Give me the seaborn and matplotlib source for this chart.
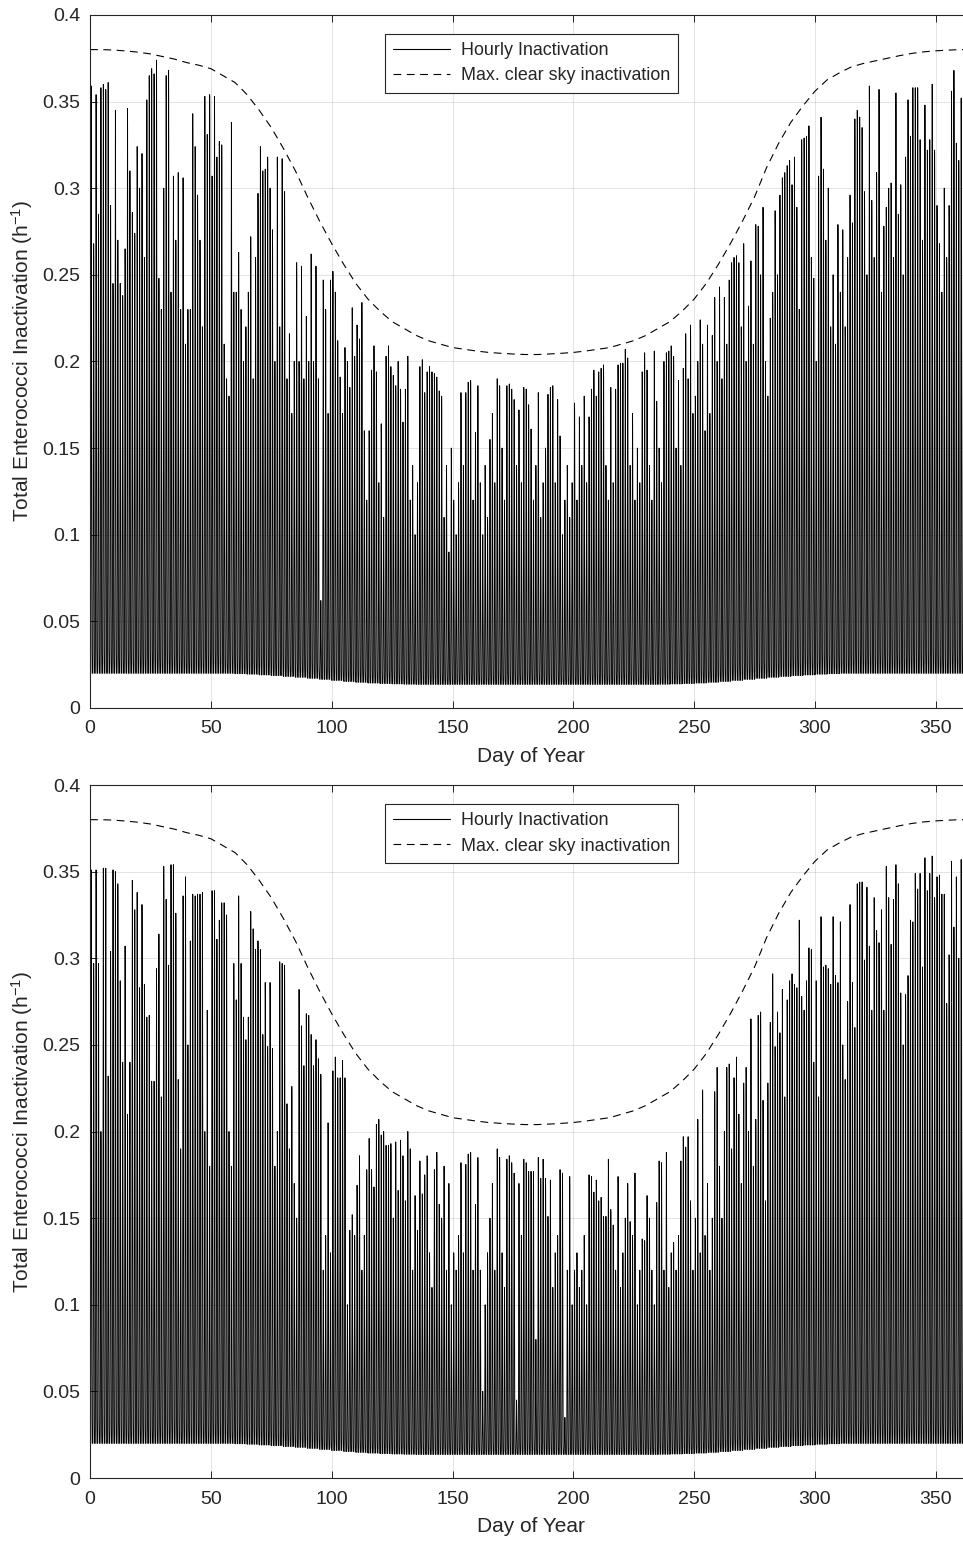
import numpy as np
import pandas as pd
import matplotlib
matplotlib.use("Agg")
import matplotlib.pyplot as plt
import seaborn as sns
from matplotlib.ticker import FuncFormatter

# Daily midday peak of hourly inactivation (h^-1), days 0..364 -- first site
TOP_PEAK = [
    0.359, 0.268, 0.354, 0.285, 0.358, 0.360, 0.357, 0.361, 0.290, 0.245,
    0.345, 0.270, 0.245, 0.238, 0.265, 0.346, 0.310, 0.286, 0.274, 0.324,
    0.300, 0.320, 0.260, 0.351, 0.365, 0.369, 0.366, 0.374, 0.248, 0.230,
    0.300, 0.365, 0.368, 0.240, 0.307, 0.270, 0.309, 0.230, 0.306, 0.210,
    0.230, 0.230, 0.343, 0.324, 0.296, 0.270, 0.220, 0.353, 0.331, 0.354,
    0.307, 0.353, 0.318, 0.327, 0.325, 0.210, 0.190, 0.180, 0.338, 0.240,
    0.240, 0.263, 0.230, 0.200, 0.220, 0.240, 0.272, 0.190, 0.260, 0.297,
    0.324, 0.310, 0.311, 0.318, 0.300, 0.276, 0.200, 0.318, 0.220, 0.317,
    0.298, 0.190, 0.216, 0.170, 0.200, 0.257, 0.200, 0.255, 0.190, 0.226,
    0.200, 0.262, 0.200, 0.255, 0.190, 0.062, 0.247, 0.230, 0.170, 0.247,
    0.252, 0.240, 0.212, 0.191, 0.170, 0.208, 0.200, 0.185, 0.231, 0.203,
    0.221, 0.213, 0.234, 0.160, 0.120, 0.160, 0.195, 0.209, 0.194, 0.130,
    0.164, 0.110, 0.203, 0.209, 0.197, 0.192, 0.186, 0.200, 0.184, 0.165,
    0.184, 0.203, 0.120, 0.140, 0.100, 0.130, 0.197, 0.201, 0.182, 0.194,
    0.197, 0.194, 0.193, 0.191, 0.183, 0.180, 0.110, 0.140, 0.090, 0.150,
    0.120, 0.100, 0.130, 0.182, 0.140, 0.182, 0.188, 0.189, 0.120, 0.159,
    0.186, 0.130, 0.100, 0.140, 0.110, 0.155, 0.170, 0.130, 0.190, 0.186,
    0.150, 0.120, 0.186, 0.187, 0.184, 0.178, 0.140, 0.172, 0.130, 0.185,
    0.184, 0.175, 0.161, 0.120, 0.140, 0.182, 0.110, 0.130, 0.150, 0.181,
    0.185, 0.186, 0.130, 0.178, 0.157, 0.100, 0.120, 0.140, 0.110, 0.130,
    0.176, 0.120, 0.168, 0.140, 0.180, 0.130, 0.168, 0.184, 0.195, 0.180,
    0.194, 0.196, 0.198, 0.140, 0.120, 0.185, 0.130, 0.184, 0.198, 0.199,
    0.199, 0.207, 0.202, 0.140, 0.170, 0.120, 0.150, 0.130, 0.194, 0.205,
    0.195, 0.140, 0.120, 0.206, 0.177, 0.150, 0.130, 0.200, 0.205, 0.206,
    0.209, 0.203, 0.150, 0.189, 0.140, 0.196, 0.216, 0.190, 0.221, 0.170,
    0.180, 0.200, 0.224, 0.210, 0.160, 0.221, 0.170, 0.215, 0.237, 0.200,
    0.243, 0.190, 0.237, 0.210, 0.247, 0.257, 0.260, 0.261, 0.257, 0.220,
    0.268, 0.200, 0.232, 0.258, 0.210, 0.279, 0.278, 0.250, 0.289, 0.200,
    0.180, 0.225, 0.240, 0.287, 0.250, 0.296, 0.306, 0.309, 0.313, 0.316,
    0.302, 0.318, 0.289, 0.230, 0.328, 0.329, 0.330, 0.336, 0.260, 0.248,
    0.200, 0.307, 0.341, 0.311, 0.270, 0.300, 0.220, 0.250, 0.210, 0.279,
    0.240, 0.276, 0.220, 0.260, 0.296, 0.280, 0.340, 0.345, 0.341, 0.335,
    0.298, 0.250, 0.359, 0.293, 0.260, 0.309, 0.357, 0.240, 0.278, 0.289,
    0.300, 0.303, 0.260, 0.355, 0.285, 0.302, 0.250, 0.318, 0.351, 0.330,
    0.358, 0.358, 0.358, 0.328, 0.270, 0.348, 0.322, 0.328, 0.360, 0.322,
    0.290, 0.268, 0.240, 0.300, 0.260, 0.290, 0.356, 0.368, 0.326, 0.316,
    0.352, 0.360, 0.228, 0.300, 0.330,
]

# Daily midday peak of hourly inactivation (h^-1), days 0..364 -- second site
BOTTOM_PEAK = [
    0.351, 0.297, 0.351, 0.297, 0.200, 0.352, 0.352, 0.232, 0.304, 0.351,
    0.350, 0.343, 0.287, 0.240, 0.307, 0.210, 0.240, 0.345, 0.328, 0.338,
    0.283, 0.331, 0.285, 0.266, 0.267, 0.229, 0.229, 0.294, 0.314, 0.220,
    0.353, 0.334, 0.296, 0.354, 0.354, 0.326, 0.230, 0.190, 0.336, 0.347,
    0.250, 0.310, 0.337, 0.336, 0.337, 0.337, 0.338, 0.200, 0.270, 0.180,
    0.339, 0.339, 0.311, 0.322, 0.332, 0.332, 0.325, 0.200, 0.180, 0.297,
    0.276, 0.336, 0.297, 0.266, 0.253, 0.266, 0.327, 0.317, 0.305, 0.310,
    0.305, 0.256, 0.286, 0.249, 0.286, 0.248, 0.180, 0.200, 0.298, 0.297,
    0.296, 0.216, 0.190, 0.226, 0.170, 0.150, 0.282, 0.261, 0.238, 0.268,
    0.267, 0.256, 0.238, 0.253, 0.242, 0.233, 0.120, 0.140, 0.205, 0.130,
    0.235, 0.243, 0.231, 0.231, 0.241, 0.231, 0.100, 0.143, 0.152, 0.140,
    0.169, 0.186, 0.120, 0.140, 0.178, 0.196, 0.178, 0.168, 0.204, 0.207,
    0.198, 0.200, 0.192, 0.192, 0.193, 0.150, 0.194, 0.166, 0.195, 0.186,
    0.160, 0.200, 0.190, 0.120, 0.163, 0.143, 0.183, 0.164, 0.175, 0.186,
    0.130, 0.110, 0.178, 0.188, 0.158, 0.150, 0.180, 0.120, 0.170, 0.100,
    0.130, 0.120, 0.140, 0.182, 0.130, 0.181, 0.187, 0.188, 0.120, 0.158,
    0.185, 0.120, 0.050, 0.100, 0.130, 0.150, 0.170, 0.120, 0.190, 0.185,
    0.130, 0.110, 0.184, 0.186, 0.182, 0.176, 0.045, 0.170, 0.140, 0.184,
    0.182, 0.177, 0.177, 0.177, 0.080, 0.185, 0.173, 0.184, 0.173, 0.151,
    0.172, 0.110, 0.130, 0.140, 0.178, 0.176, 0.035, 0.120, 0.174, 0.100,
    0.120, 0.130, 0.110, 0.120, 0.140, 0.100, 0.175, 0.174, 0.165, 0.172,
    0.160, 0.162, 0.151, 0.151, 0.184, 0.155, 0.146, 0.120, 0.174, 0.110,
    0.130, 0.150, 0.170, 0.148, 0.140, 0.176, 0.100, 0.120, 0.138, 0.137,
    0.163, 0.150, 0.120, 0.100, 0.159, 0.183, 0.182, 0.120, 0.188, 0.110,
    0.130, 0.136, 0.120, 0.140, 0.183, 0.197, 0.191, 0.197, 0.160, 0.120,
    0.150, 0.207, 0.130, 0.224, 0.140, 0.170, 0.120, 0.150, 0.223, 0.237,
    0.180, 0.150, 0.200, 0.237, 0.239, 0.190, 0.231, 0.243, 0.210, 0.170,
    0.228, 0.237, 0.200, 0.265, 0.180, 0.207, 0.267, 0.269, 0.218, 0.160,
    0.228, 0.263, 0.291, 0.249, 0.269, 0.257, 0.282, 0.220, 0.276, 0.287,
    0.291, 0.285, 0.283, 0.322, 0.278, 0.270, 0.287, 0.306, 0.305, 0.240,
    0.287, 0.220, 0.324, 0.295, 0.296, 0.294, 0.285, 0.324, 0.290, 0.286,
    0.321, 0.250, 0.230, 0.275, 0.331, 0.286, 0.260, 0.343, 0.344, 0.344,
    0.299, 0.341, 0.307, 0.270, 0.335, 0.316, 0.309, 0.328, 0.270, 0.353,
    0.335, 0.308, 0.334, 0.354, 0.343, 0.280, 0.250, 0.279, 0.290, 0.322,
    0.321, 0.349, 0.340, 0.349, 0.295, 0.358, 0.339, 0.349, 0.359, 0.335,
    0.347, 0.348, 0.337, 0.337, 0.274, 0.302, 0.356, 0.318, 0.347, 0.300,
    0.357, 0.356, 0.300, 0.250, 0.330,
]

# Night-time (dark) inactivation level, one value per 5-day block
NIGHT_BASE_5DAY = [
    0.0200, 0.0200, 0.0200, 0.0200, 0.0200, 0.0200, 0.0200, 0.0200, 0.0200, 0.0200,
    0.0200, 0.0200, 0.0198, 0.0195, 0.0191, 0.0187, 0.0182, 0.0177, 0.0171, 0.0165,
    0.0159, 0.0153, 0.0148, 0.0144, 0.0141, 0.0139, 0.0137, 0.0136, 0.0136, 0.0136,
    0.0136, 0.0136, 0.0136, 0.0136, 0.0136, 0.0136, 0.0136, 0.0136, 0.0136, 0.0136,
    0.0136, 0.0136, 0.0136, 0.0136, 0.0136, 0.0136, 0.0136, 0.0137, 0.0139, 0.0141,
    0.0144, 0.0148, 0.0153, 0.0159, 0.0165, 0.0171, 0.0177, 0.0182, 0.0187, 0.0191,
    0.0195, 0.0198, 0.0200, 0.0200, 0.0200, 0.0200, 0.0200, 0.0200, 0.0200, 0.0200,
    0.0200, 0.0200, 0.0200,
]

# Fraction of the midday solar dose reached in each hour of the day (0..23 h)
HOUR_PROFILE = [0.0, 0.0, 0.0, 0.0, 0.0, 0.02, 0.08, 0.20, 0.38, 0.58, 0.76, 0.92,
                1.00, 0.96, 0.84, 0.66, 0.46, 0.27, 0.12, 0.04, 0.01, 0.0, 0.0, 0.0]

# Maximum clear-sky inactivation, every 5 days from day 0 to day 365
CLEAR_SKY_DAYS = list(range(0, 366, 5))
CLEAR_SKY_MAX = [
    0.3800, 0.3800, 0.3797, 0.3792, 0.3785, 0.3775, 0.3760, 0.3745, 0.3725, 0.3710,
    0.3690, 0.3650, 0.3610, 0.3540, 0.3450, 0.3350, 0.3230, 0.3100, 0.2950, 0.2810,
    0.2680, 0.2560, 0.2450, 0.2360, 0.2290, 0.2230, 0.2190, 0.2150, 0.2120, 0.2100,
    0.2080, 0.2070, 0.2060, 0.2052, 0.2047, 0.2043, 0.2040, 0.2040, 0.2043, 0.2047,
    0.2052, 0.2060, 0.2070, 0.2080, 0.2100, 0.2120, 0.2150, 0.2190, 0.2230, 0.2290,
    0.2360, 0.2450, 0.2560, 0.2680, 0.2810, 0.2950, 0.3120, 0.3260, 0.3380, 0.3475,
    0.3560, 0.3625, 0.3665, 0.3700, 0.3720, 0.3735, 0.3750, 0.3765, 0.3778, 0.3787,
    0.3793, 0.3797, 0.3800, 0.3800,
]

X_TICKS = [0, 50, 100, 150, 200, 250, 300, 350]
Y_TICKS = [0, 0.05, 0.1, 0.15, 0.2, 0.25, 0.3, 0.35, 0.4]

assert len(TOP_PEAK) == 365 and len(BOTTOM_PEAK) == 365
assert len(NIGHT_BASE_5DAY) * 5 == 365
assert len(CLEAR_SKY_DAYS) == len(CLEAR_SKY_MAX)

sns.set_theme(style="ticks")
plt.rcParams["font.family"] = ["Liberation Sans", "DejaVu Sans"]
plt.rcParams["mathtext.fontset"] = "custom"
plt.rcParams["mathtext.rm"] = "Liberation Sans"
plt.rcParams["mathtext.it"] = "Liberation Sans:italic"
plt.rcParams["mathtext.bf"] = "Liberation Sans:bold"

INK = "#262626"
DASH = (7, 5)


def hourly_series(peaks):
    peaks = np.asarray(peaks, dtype=float)
    base = np.repeat(NIGHT_BASE_5DAY, 5)
    prof = np.asarray(HOUR_PROFILE)
    vals = base[:, None] + (peaks - base)[:, None] * prof[None, :]
    t = np.arange(len(peaks))[:, None] + np.arange(24)[None, :] / 24.0
    return pd.DataFrame({"day": t.ravel(), "rate": vals.ravel()})


clear_df = pd.DataFrame({"day": CLEAR_SKY_DAYS, "rate": CLEAR_SKY_MAX})

fig = plt.figure(figsize=(9.63, 15.42), dpi=100)
fig.patch.set_facecolor("white")

panels = [
    (TOP_PEAK, [0.0935, 0.5409, 0.9159, 0.4494]),
    (BOTTOM_PEAK, [0.0935, 0.0415, 0.9159, 0.4494]),
]

for peaks, pos in panels:
    ax = fig.add_axes(pos)
    ax.set_facecolor("white")
    hourly = hourly_series(peaks)
    sns.lineplot(data=hourly, x="day", y="rate", ax=ax, color="black",
                 linewidth=0.65, estimator=None, sort=False, errorbar=None,
                 label="Hourly Inactivation")
    sns.lineplot(data=clear_df, x="day", y="rate", ax=ax, color="black",
                 linewidth=0.8, estimator=None, errorbar=None,
                 label="Max. clear sky inactivation")
    ax.lines[-1].set_dashes(DASH)

    ax.set_xlim(0, 365)
    ax.set_ylim(0, 0.4)
    ax.set_xticks(X_TICKS)
    ax.set_yticks(Y_TICKS)
    ax.yaxis.set_major_formatter(FuncFormatter(lambda v, _: f"{v:g}"))
    ax.grid(True, color=INK, alpha=0.13, linewidth=0.7)
    ax.set_axisbelow(True)
    ax.tick_params(direction="in", length=5, width=0.7, top=True, right=True,
                   labelsize=14, colors=INK, labelcolor=INK)
    ax.tick_params(axis="x", pad=9)
    ax.tick_params(axis="y", pad=7)
    for sp in ax.spines.values():
        sp.set_visible(True)
        sp.set_color(INK)
        sp.set_linewidth(0.8)

    ax.set_xlabel("Day of Year", fontsize=15, color=INK, labelpad=7)
    ax.set_ylabel(r"Total Enterococci Inactivation (h$^{-1}$)", fontsize=15,
                  color=INK, labelpad=5)

    leg = ax.legend(loc="upper left", bbox_to_anchor=(0.334, 0.972),
                    borderaxespad=0, frameon=True, fancybox=False,
                    edgecolor=INK, framealpha=1, fontsize=12.9,
                    handlelength=3.2, borderpad=0.45, labelspacing=0.45,
                    handletextpad=0.6)
    leg.get_frame().set_linewidth(0.8)
    for line in leg.get_lines():
        line.set_linewidth(0.8)
    leg.get_lines()[1].set_dashes(DASH)

fig.savefig("out.png", dpi=100, facecolor="white")
